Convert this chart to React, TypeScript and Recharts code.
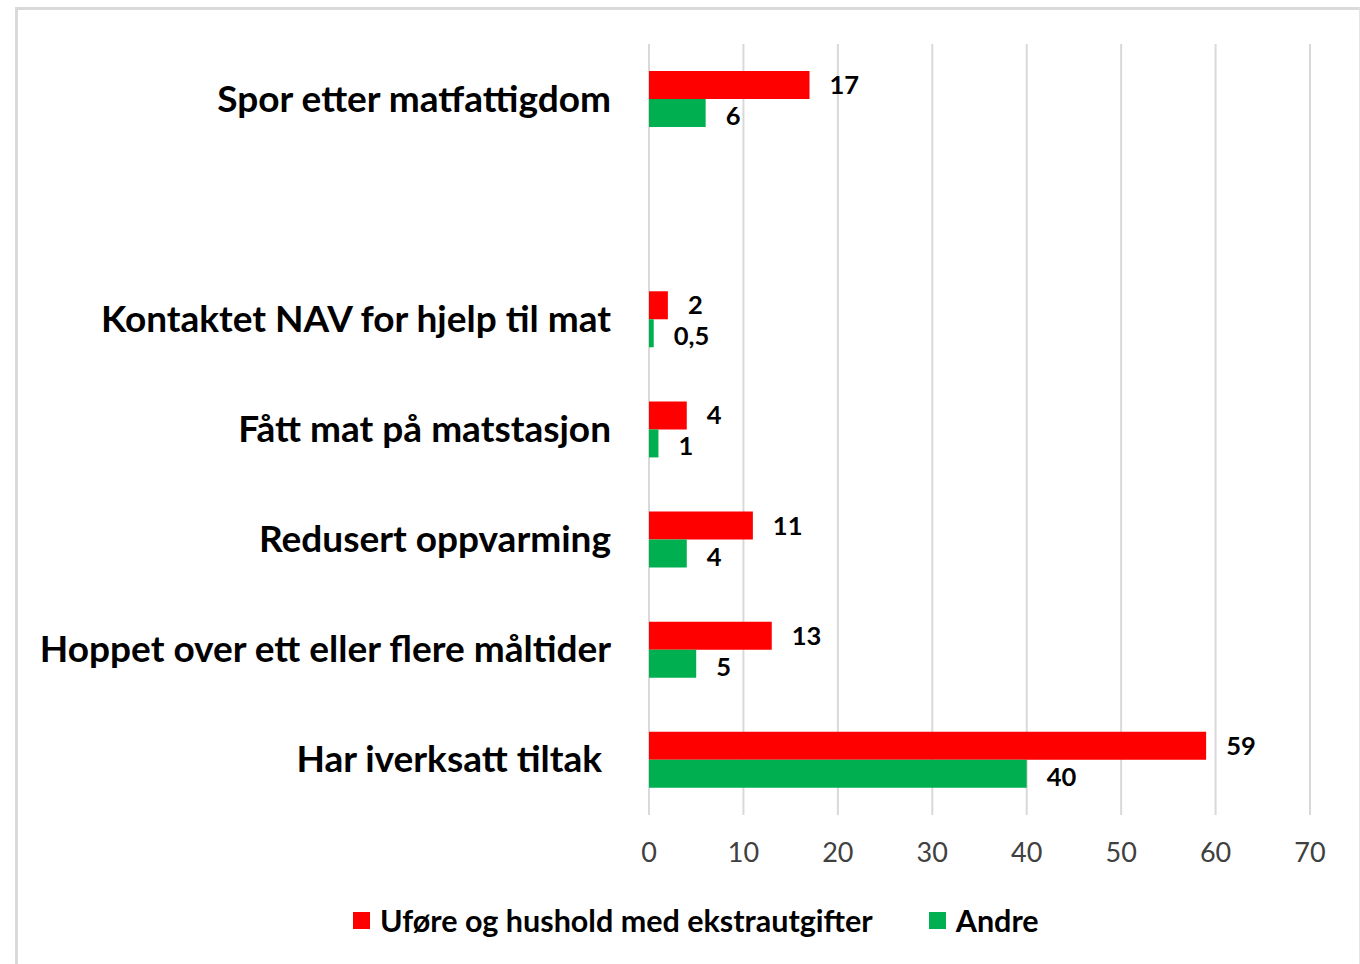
import React from 'react';
import { BarChart, Bar, XAxis, YAxis, CartesianGrid, LabelList } from 'recharts';

const categories = [
  'Spor etter matfattigdom',
  '',
  'Kontaktet NAV for hjelp til mat',
  'Fått mat på matstasjon',
  'Redusert oppvarming',
  'Hoppet over ett eller flere måltider',
  'Har iverksatt tiltak ',
];
const uforeValues: (number | null)[] = [17, null, 2, 4, 11, 13, 59];
const andreValues: (number | null)[] = [6, null, 0.5, 1, 4, 5, 40];
const xTicks = [0, 10, 20, 30, 40, 50, 60, 70];
const seriesNames = ['Uføre og hushold med ekstrautgifter', 'Andre'];
const seriesColors = ['#FF0000', '#00B050'];

const data = categories.map((c, i) => ({ name: c, ufore: uforeValues[i], andre: andreValues[i] }));

const FONT = 'Lato, "Open Sans", sans-serif';

const CatTick = (props: any) => {
  const { x, y, payload } = props;
  return (
    <text x={x - 30} y={y - 2} textAnchor="end" dominantBaseline="central" fontFamily={FONT} fontWeight={700} fontSize={37} fill="#000" style={{ whiteSpace: 'pre' }}>
      {payload.value}
    </text>
  );
};

const makeLabel = (dy: number) => (props: any) => {
  const { x, y, width, height, value } = props;
  if (value === null || value === undefined) return null;
  return (
    <text x={x + width + 20} y={y + height / 2 + dy} dominantBaseline="central" fontFamily={FONT} fontWeight={700} fontSize={25.5} fill="#000">
      {String(value).replace('.', ',')}
    </text>
  );
};
const RedLabel = makeLabel(-1);
const GreenLabel = makeLabel(2);

const ChartLegend = () => (
  <div style={{ position: 'absolute', left: 353, top: 900, height: 40, display: 'flex', alignItems: 'center', fontFamily: FONT, fontWeight: 700, fontSize: 30.5, color: '#000', whiteSpace: 'nowrap' }}>
    {seriesNames.map((n, i) => (
      <div key={n} style={{ display: 'flex', alignItems: 'center', marginRight: i === 0 ? 56 : 0 }}>
        <span style={{ display: 'inline-block', width: 17, height: 17, background: seriesColors[i], marginRight: 10 }} />
        <span>{n}</span>
      </div>
    ))}
  </div>
);

export default function App() {
  return (
    <div style={{ position: 'absolute', left: 0, top: 0, width: 1360, height: 964, background: '#fff', overflow: 'hidden' }}>
      <div style={{ position: 'absolute', left: 15, top: 7, width: 1341, height: 980, borderLeft: '3px solid #d9d9d9', borderTop: '3px solid #d9d9d9', borderRight: '1px solid #e4e4e4' }} />
      <div style={{ position: 'absolute', left: 0, top: 0 }}>
        <BarChart
          width={1360}
          height={964}
          layout="vertical"
          data={data}
          margin={{ top: 44, right: 50, bottom: 0, left: 0 }}
          barGap={0}
          barSize={28}
        >
          <CartesianGrid horizontal={false} stroke="#d9d9d9" strokeWidth={2} />
          <XAxis
            type="number"
            domain={[0, 70]}
            ticks={xTicks}
            axisLine={false}
            tickLine={false}
            height={149}
            tick={{ fontFamily: FONT, fontSize: 27, fill: '#404040' }}
            tickMargin={22}
            interval={0}
          />
          <YAxis type="category" dataKey="name" width={649} axisLine={false} tickLine={false} tick={<CatTick />} interval={0} />
          <Bar dataKey="ufore" name={seriesNames[0]} fill={seriesColors[0]} isAnimationActive={false}>
            <LabelList dataKey="ufore" content={<RedLabel />} />
          </Bar>
          <Bar dataKey="andre" name={seriesNames[1]} fill={seriesColors[1]} isAnimationActive={false}>
            <LabelList dataKey="andre" content={<GreenLabel />} />
          </Bar>
        </BarChart>
      </div>
      <ChartLegend />
    </div>
  );
}
